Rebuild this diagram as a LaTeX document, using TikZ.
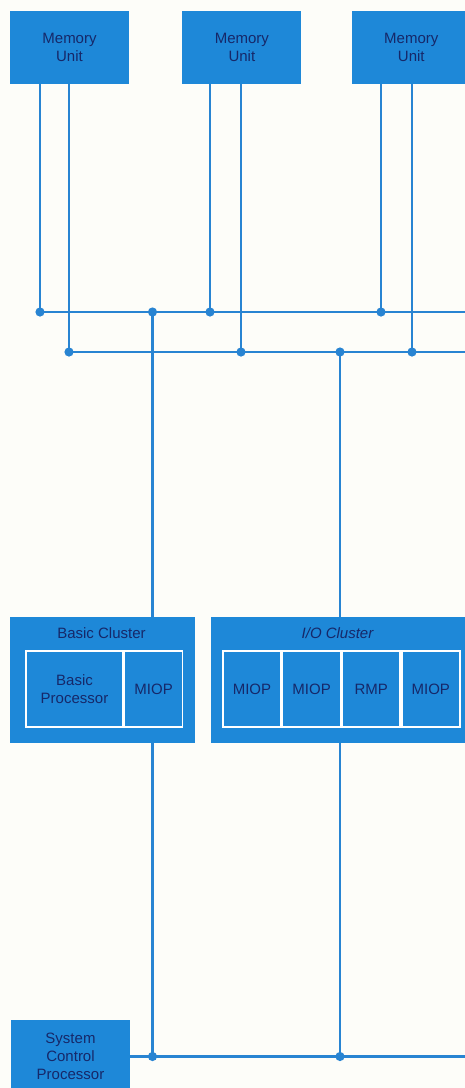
\documentclass[tikz,border=0pt]{standalone}
\usepackage{fontspec}
\setmainfont{Liberation Sans}
\usetikzlibrary{positioning}
\definecolor{boxblue}{RGB}{30,136,216}
\definecolor{lineblue}{RGB}{40,132,210}
\definecolor{labelnavy}{RGB}{22,40,105}
\definecolor{paper}{RGB}{253,253,249}

\begin{document}
\begin{tikzpicture}[x=1pt,y=-1pt,
  txt/.style={text=labelnavy,align=center,font=\fontsize{15}{18}\selectfont},
  unitbox/.style={txt,fill=boxblue,inner sep=0pt,minimum width=119pt,minimum height=73pt},
  clusterbox/.style={fill=boxblue,inner sep=0pt,minimum height=126pt},
  cell/.style={txt,draw=white,line width=1.6pt,fill=boxblue,inner sep=0pt,minimum height=76pt},
  bus/.style={lineblue,line width=2.2pt}]
\useasboundingbox[fill=paper] (0,0) rectangle (465,1088);
% memory units
\node[unitbox] (m1) at (69.5,47.5) {Memory\\Unit};
\node[unitbox,right=53pt of m1] (m2) {Memory\\Unit};
\node[unitbox,right=50pt of m2] (m3) {Memory\\Unit};
% clusters
\node[clusterbox,minimum width=185pt] (bc) at (102.5,680) {};
\node[clusterbox,minimum width=259pt] (io) at (340.5,680) {};
\node[txt] (bctitle) at (101.5,633) {Basic Cluster};
\node[txt,font=\fontsize{15}{18}\selectfont\itshape] (iotitle) at (337.5,633) {I/O Cluster};
\node[cell,minimum width=97pt] (bp) at (74.5,689) {Basic\\Processor};
\node[cell,minimum width=58pt,right=0pt of bp] (bm) {MIOP};
\node[cell,minimum width=58pt] (io1) at (252,689) {MIOP};
\node[cell,minimum width=58pt,right=0pt of io1] (io2) {MIOP};
\node[cell,minimum width=58pt,right=0pt of io2] (io3) {RMP};
\node[cell,minimum width=58pt,right=0pt of io3] (io4) {MIOP};
% system control processor
\node[unitbox] (scp) at (70.5,1056.5) {System\\Control\\Processor};
% memory buses
\foreach \i/\xa/\xb in {1/40/69,2/210/241,3/381/412}{
  \coordinate (ta\i) at (\xa,312);
  \coordinate (tb\i) at (\xb,352);
  \draw[bus] (m\i.south -| ta\i) -- (ta\i);
  \draw[bus] (m\i.south -| tb\i) -- (tb\i);
}
\coordinate (endA) at (465,312);
\coordinate (endB) at (465,352);
\draw[bus] (ta1) -- (endA);
\draw[bus] (tb1) -- (endB);
\coordinate (dropA) at (152.5,312);
\coordinate (dropB) at (340,352);
\draw[bus] (dropA) -- (bc.north -| dropA);
\draw[bus] (dropB) -- (io.north -| dropB);
% control bus
\coordinate (dropC) at (152.5,1056.5);
\coordinate (dropD) at (340,1056.5);
\coordinate (endC) at (465,1056.5);
\draw[bus] (scp.east) -- (endC);
\draw[bus] (bc.south -| dropC) -- (dropC);
\draw[bus] (io.south -| dropD) -- (dropD);
% junction dots
\foreach \p in {ta1,ta2,ta3,tb1,tb2,tb3,dropA,dropB,dropC,dropD}
  \fill[lineblue] (\p) circle (4.6pt);
\end{tikzpicture}
\end{document}
